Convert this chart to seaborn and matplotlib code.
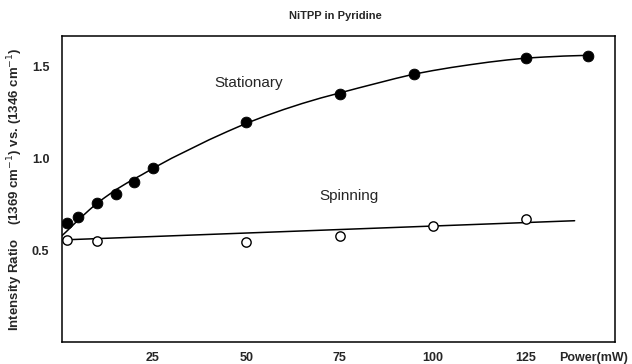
import matplotlib
matplotlib.use("Agg")
import matplotlib.pyplot as plt
import seaborn as sns
import pandas as pd

# measured points
stat_power = [2, 5, 10, 15, 20, 25, 50, 75, 95, 125, 141.5]
stat_ratio = [0.645, 0.679, 0.754, 0.803, 0.870, 0.945, 1.195, 1.351, 1.459, 1.546, 1.559]

spin_power = [2, 10, 50, 75, 100, 125]
spin_ratio = [0.553, 0.552, 0.546, 0.575, 0.634, 0.670]

# drawn fit curves
stat_fit_power = [0, 2, 4, 6, 8, 10, 12, 15, 18, 20, 22, 25, 30, 35, 40, 45, 50, 55,
                  60, 65, 70, 75, 80, 85, 90, 95, 100, 105, 110, 115, 120, 125, 130,
                  135, 141.5]
stat_fit_ratio = [0.567, 0.605, 0.645, 0.683, 0.72, 0.755, 0.785, 0.828, 0.865, 0.888,
                  0.91, 0.945, 1.0, 1.05, 1.10, 1.146, 1.19, 1.229, 1.265, 1.298,
                  1.328, 1.355, 1.382, 1.408, 1.434, 1.458, 1.477, 1.494, 1.509,
                  1.523, 1.535, 1.545, 1.551, 1.556, 1.56]
spin_fit_power = [0, 138]
spin_fit_ratio = [0.555, 0.660]

x_ticks = [25, 50, 75, 100, 125]
y_ticks = [0.5, 1.0, 1.5]

sns.set_style("white")
plt.rcParams['font.family'] = ['Liberation Sans', 'DejaVu Sans']

stat = pd.DataFrame({'power': stat_power, 'ratio': stat_ratio})
spin = pd.DataFrame({'power': spin_power, 'ratio': spin_ratio})
stat_fit = pd.DataFrame({'power': stat_fit_power, 'ratio': stat_fit_ratio})
spin_fit = pd.DataFrame({'power': spin_fit_power, 'ratio': spin_fit_ratio})

fig = plt.figure(figsize=(6.32, 3.64), dpi=100)
ax = fig.add_axes([0.098, 0.0604, 0.875, 0.8406])

sns.lineplot(data=stat_fit, x='power', y='ratio', ax=ax, color='black', lw=1.1, sort=True)
sns.lineplot(data=spin_fit, x='power', y='ratio', ax=ax, color='black', lw=1.1)
sns.scatterplot(data=stat, x='power', y='ratio', ax=ax, color='black', s=60,
                edgecolor='black', zorder=3)
sns.scatterplot(data=spin, x='power', y='ratio', ax=ax, color='white', s=45,
                edgecolor='black', linewidth=1.0, zorder=3)

ax.set_xlim(0.6, 148.8)
ax.set_ylim(0, 1.665)
ax.set_xticks(x_ticks)
ax.set_yticks(y_ticks)
ax.set_xticklabels([str(t) for t in x_ticks], fontsize=9, fontweight='bold')
ax.set_yticklabels(['%.1f' % t for t in y_ticks], fontsize=9, fontweight='bold')
ax.tick_params(direction='in', length=7, width=1, color='black')
ax.tick_params(axis='x', pad=7)
ax.tick_params(axis='y', pad=9)
ax.set_xlabel('')
ax.set_ylabel(r'Intensity Ratio    (1369 cm$^{-1}$) vs. (1346 cm$^{-1}$)',
              fontsize=9.5, fontweight='bold', labelpad=5)

for s in ax.spines.values():
    s.set_color('black')
    s.set_linewidth(1.1)
    s.set_visible(True)

ax.text(41.5, 1.41, 'Stationary', fontsize=11, va='center', ha='left')
ax.text(69.5, 0.792, 'Spinning', fontsize=11, va='center', ha='left')
ax.text(0.962, -0.052, 'Power(mW)', transform=ax.transAxes, fontsize=9,
        fontweight='bold', ha='center', va='center')

fig.text(0.53, 0.956, 'NiTPP in Pyridine', fontsize=8, fontweight='bold',
         ha='center', va='center')

fig.savefig('out.png', dpi=100)
